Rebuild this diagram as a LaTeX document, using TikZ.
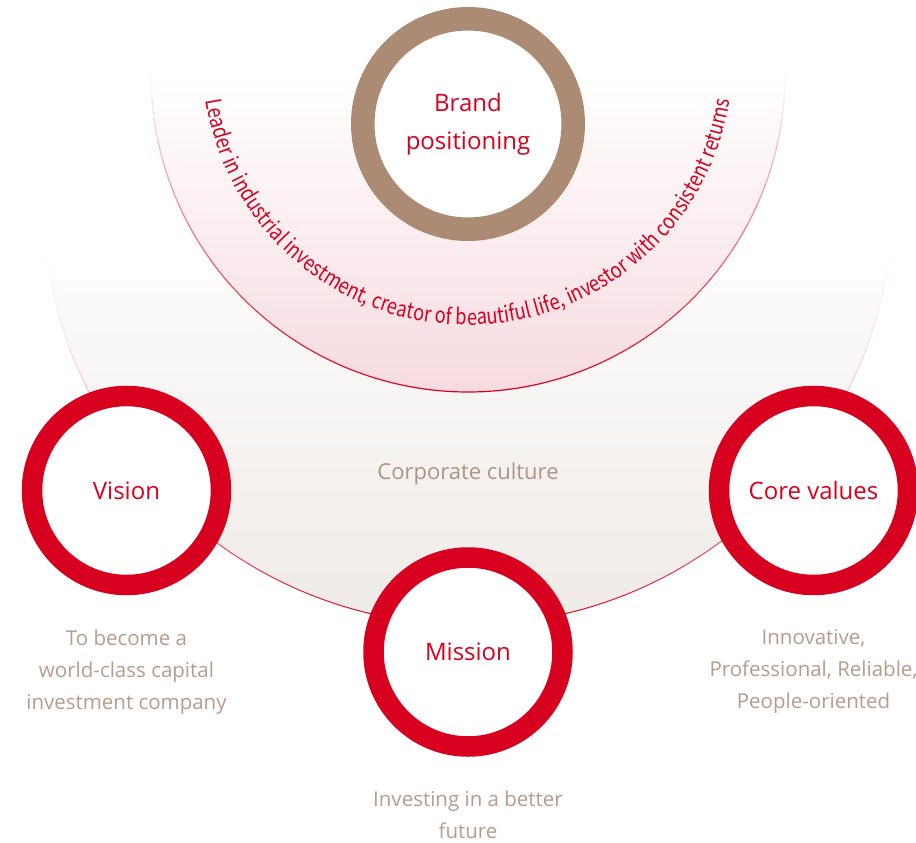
\documentclass[tikz,border=0pt]{standalone}
\usepackage{fontspec}
\setmainfont{Open Sans}
\newfontfamily\curvefont[FakeStretch=0.835]{Noto Sans CJK SC}
\usetikzlibrary{positioning, decorations.text}
\definecolor{brandred}{RGB}{215,0,31}
\definecolor{ringbrown}{RGB}{171,139,116}
\definecolor{descbrown}{RGB}{183,156,139}
\definecolor{culturebrown}{RGB}{176,149,131}
\definecolor{pinkbot}{RGB}{246,219,224}
\definecolor{culturebot}{RGB}{237,232,228}
\tikzset{
  ring/.style={circle, draw=brandred, line width=20.5pt, fill=white, minimum size=189pt,
               inner sep=0pt, align=center, text=brandred, font=\fontsize{24}{38}\selectfont},
  brandring/.style={ring, draw=ringbrown, line width=23.5pt, minimum size=210.5pt},
  desc/.style={inner sep=0pt, align=center, text=descbrown, font=\fontsize{20.5}{32}\selectfont},
  culture/.style={inner sep=0pt, text=culturebrown, font=\fontsize{22}{26}\selectfont},
}

\begin{document}
\begin{tikzpicture}[x=1pt, y=1pt]

  \useasboundingbox (0,0) rectangle (916,-843);
  \clip (0,0) rectangle (916,-843);

  % ── Corporate culture disc ───────────────────────────────────────────
  \coordinate (culturec) at (468,-200);
  \path[top color=white, bottom color=culturebot]
    (culturec) ++(190.85:425) arc[start angle=190.85, end angle=349.15, radius=425] -- cycle;
  \foreach \a in {180,184,...,356}{
    \pgfmathsetmacro\op{(max(0,-sin(\a+2)))^2}
    \draw[brandred, line width=1pt, opacity=\op]
      (culturec) ++(\a:425) arc[start angle=\a, end angle=\a+4, radius=425];
  }

  % ── Brand positioning half disc ──────────────────────────────────────
  \coordinate (brandc) at (468,-75);
  \path[top color=white, bottom color=pinkbot]
    (brandc) ++(180:317) arc[start angle=180, end angle=360, radius=317] -- cycle;
  \foreach \a in {180,184,...,356}{
    \pgfmathsetmacro\op{max(0,-sin(\a+2))}
    \draw[brandred, line width=1.2pt, opacity=\op]
      (brandc) ++(\a:317) arc[start angle=\a, end angle=\a+4, radius=317];
  }

  % ── Curved slogan ────────────────────────────────────────────────────
  \coordinate (textc) at (468,-60);
  \path[decorate, decoration={text along path, text align=center,
        text={|\curvefont\fontsize{22}{22}\selectfont\color{brandred}|Leader in industrial investment, creator of beautiful life, investor with consistent returns}}]
    (textc) ++(182:265) arc[start angle=182, end angle=358, radius=265];

  % ── Rings ────────────────────────────────────────────────────────────
  \node[brandring] (brand) at (468,-124) {Brand\\positioning};
  \node[ring] (vision) at (126.5,-490.5) {Vision};
  \node[ring] (mission) at (468,-652) {Mission};
  \node[ring] (core) at (813.5,-490.5) {Core values};

  \node[culture] (culture) at (468,-474) {Corporate culture};

  % ── Descriptions ─────────────────────────────────────────────────────
  \node[desc, below=34pt of vision] (visiondesc)
    {To become a\\world-class capital\\investment company};
  \node[desc, below=34pt of mission] (missiondesc)
    {Investing in a better\\future};
  \node[desc, below=34pt of core] (coredesc)
    {Innovative,\\Professional, Reliable,\\People-oriented};

\end{tikzpicture}
\end{document}
